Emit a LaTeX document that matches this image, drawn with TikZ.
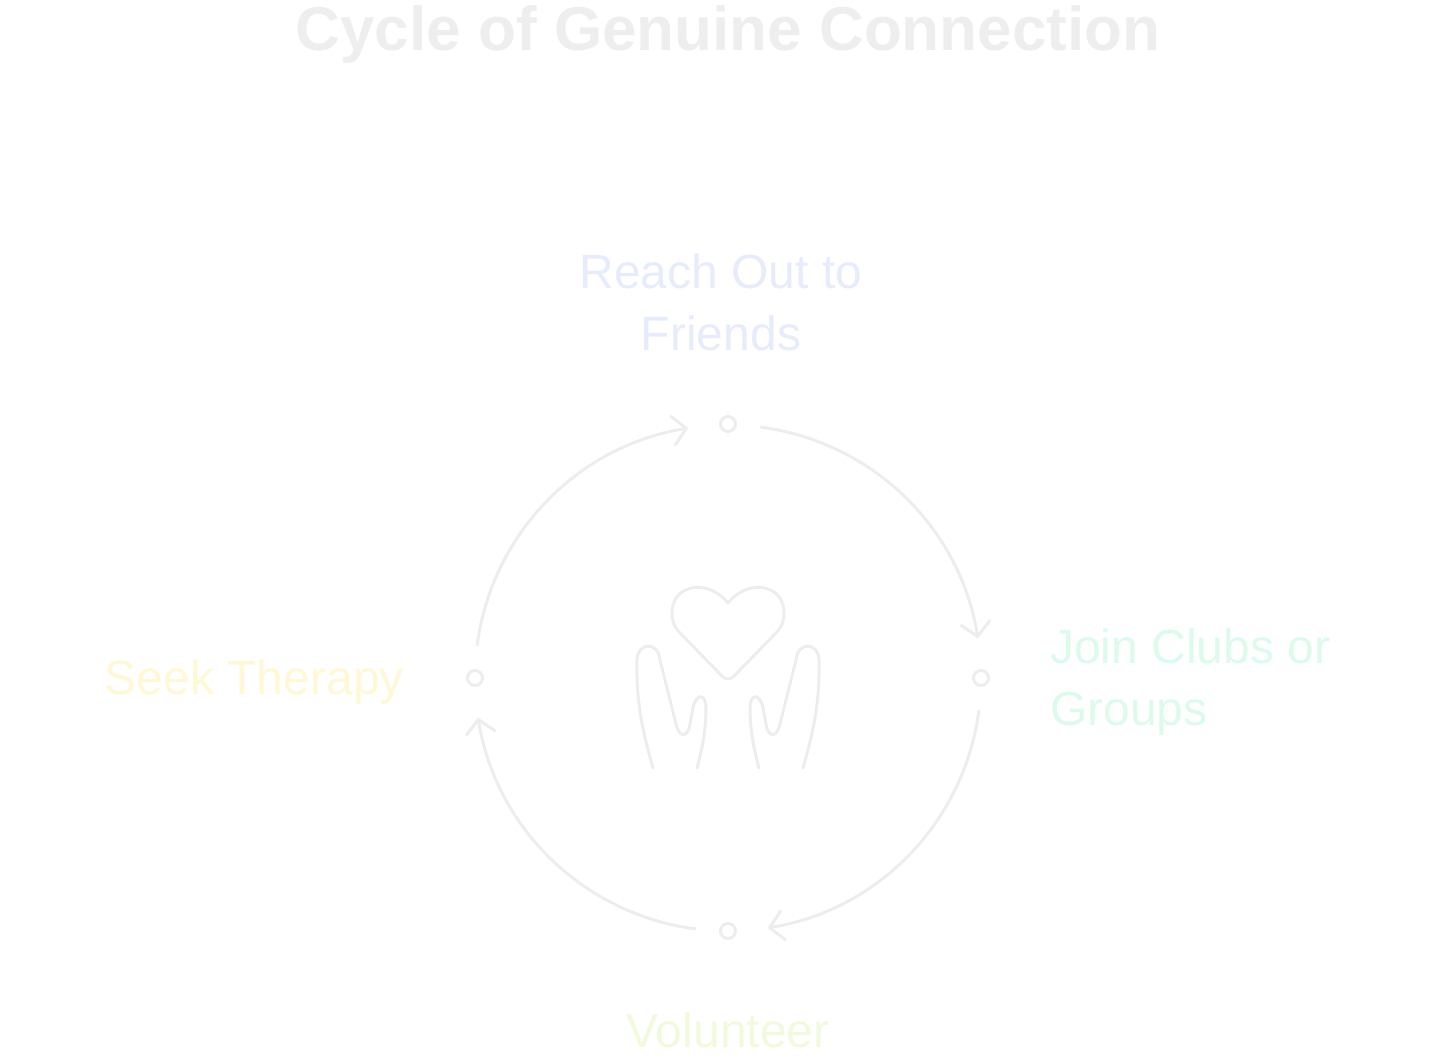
\documentclass[tikz,border=0pt]{standalone}
\usepackage{fontspec}
\setmainfont{Liberation Sans}
\usetikzlibrary{arrows.meta}
\definecolor{ring}{HTML}{EDEDED}
\definecolor{ctitle}{HTML}{EEEEEE}
\definecolor{cblue}{HTML}{E6ECFC}
\definecolor{cmint}{HTML}{DDFBEC}
\definecolor{cgreen}{HTML}{F1FADC}
\definecolor{cyell}{HTML}{FFF8D6}
\tikzset{
  ringline/.style={draw=ring,line width=3pt,line cap=round,line join=round},
  arr/.style={ringline,-{Straight Barb[length=14pt,width=30pt,line width=3pt]}},
  dotn/.style={circle,draw=ring,line width=3pt,minimum size=15pt,inner sep=0pt},
  lbl/.style={font=\fontsize{48}{62}\selectfont,align=center,inner sep=0pt}
}
\begin{document}
\begin{tikzpicture}[x=1pt,y=-1pt]
\useasboundingbox (0,0) rectangle (1456,1059);
\node[font=\bfseries\fontsize{62}{70}\selectfont,text=ctitle] (title) at (728,34) {Cycle of Genuine Connection};
\coordinate (c) at (728,678);
\node[dotn] (dt) at (728,424) {};
\node[dotn] (dr) at (981,678) {};
\node[dotn] (db) at (728,931) {};
\node[dotn] (dl) at (475,678) {};
\draw[arr] (c) ++(82.5:253pt) arc[start angle=82.5,end angle=9,radius=253pt];
\draw[arr] (c) ++(-7.5:253pt) arc[start angle=-7.5,end angle=-81,radius=253pt];
\draw[arr] (c) ++(-97.5:253pt) arc[start angle=-97.5,end angle=-171,radius=253pt];
\draw[arr] (c) ++(172.5:253pt) arc[start angle=172.5,end angle=99,radius=253pt];
\node[lbl,text=cblue] (reach) at (721,302) {Reach Out to\\Friends};
\node[lbl,text=cmint,align=left,anchor=west] (join) at (1050,682) {Join Clubs or\\Groups};
\node[lbl,text=cgreen] (vol) at (728,1030) {Volunteer};
\node[lbl,text=cyell,anchor=east] (seek) at (404,682) {Seek Therapy};
% heart
\draw[ringline] (728,603) .. controls (708,578) and (672,584) .. (672,613)
  .. controls (672,622) and (675,628) .. (680,633) -- (722,676)
  .. controls (726,680) and (730,680) .. (734,676) -- (776,633)
  .. controls (781,628) and (784,622) .. (784,613)
  .. controls (784,584) and (748,578) .. (728,603);
% hands
\foreach \s in {1,-1}{
\begin{scope}[shift={(728,0)},xscale=\s]
\draw[ringline] (-75,768) .. controls (-86,730) and (-92,700) .. (-91,660)
  .. controls (-91,643) and (-70,640) .. (-68,660)
  -- (-52,724) .. controls (-49,738) and (-40,738) .. (-38,724)
  -- (-35,708) .. controls (-32,693) and (-22,693) .. (-22,708)
  .. controls (-22,730) and (-26,750) .. (-31,768);
\end{scope}}
\end{tikzpicture}
\end{document}
